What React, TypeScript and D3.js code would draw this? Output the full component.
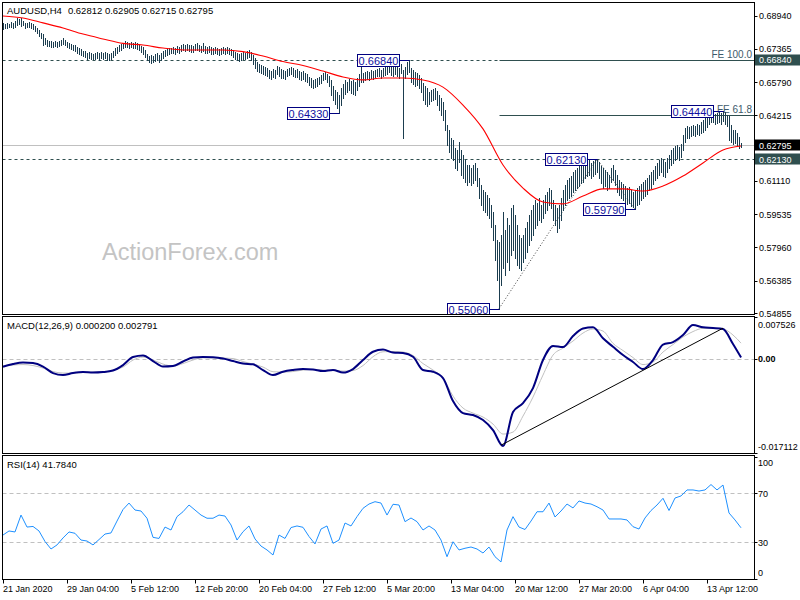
import React from "react";
import * as d3 from "d3";

// ---------- DATA ----------
const barHigh = [
  0.6859, 0.6854, 0.6859, 0.6854, 0.6863, 0.6859, 0.6868, 0.6882, 0.6877, 0.6882,
  0.6868, 0.6859, 0.6859, 0.6863, 0.6859, 0.6854, 0.6844, 0.6835, 0.6825, 0.6811,
  0.6806, 0.6787, 0.6778, 0.6773, 0.6773, 0.6769, 0.6773, 0.6769, 0.6773, 0.6778,
  0.6787, 0.6778, 0.6769, 0.6764, 0.6759, 0.6754, 0.6754, 0.6745, 0.6740, 0.6735,
  0.6726, 0.6726, 0.6716, 0.6721, 0.6716, 0.6712, 0.6716, 0.6721, 0.6716, 0.6721,
  0.6716, 0.6721, 0.6716, 0.6712, 0.6716, 0.6726, 0.6740, 0.6745, 0.6754, 0.6759,
  0.6764, 0.6773, 0.6769, 0.6764, 0.6769, 0.6764, 0.6769, 0.6764, 0.6759, 0.6750,
  0.6745, 0.6731, 0.6712, 0.6702, 0.6707, 0.6702, 0.6712, 0.6716, 0.6707, 0.6716,
  0.6726, 0.6731, 0.6735, 0.6740, 0.6740, 0.6745, 0.6740, 0.6750, 0.6745, 0.6754,
  0.6759, 0.6754, 0.6759, 0.6754, 0.6754, 0.6750, 0.6759, 0.6764, 0.6754, 0.6750,
  0.6764, 0.6750, 0.6745, 0.6750, 0.6745, 0.6740, 0.6745, 0.6740, 0.6735, 0.6740,
  0.6745, 0.6740, 0.6745, 0.6740, 0.6735, 0.6731, 0.6721, 0.6716, 0.6712, 0.6716,
  0.6721, 0.6716, 0.6726, 0.6731, 0.6721, 0.6707, 0.6693, 0.6674, 0.6664, 0.6660,
  0.6655, 0.6650, 0.6645, 0.6636, 0.6631, 0.6641, 0.6636, 0.6655, 0.6650, 0.6641,
  0.6636, 0.6631, 0.6641, 0.6645, 0.6650, 0.6645, 0.6636, 0.6641, 0.6631, 0.6627,
  0.6631, 0.6622, 0.6617, 0.6603, 0.6598, 0.6589, 0.6593, 0.6598, 0.6603, 0.6612,
  0.6622, 0.6627, 0.6617, 0.6608, 0.6589, 0.6560, 0.6541, 0.6532, 0.6518, 0.6551,
  0.6570, 0.6589, 0.6579, 0.6593, 0.6584, 0.6589, 0.6579, 0.6598, 0.6617, 0.6650,
  0.6622, 0.6627, 0.6631, 0.6627, 0.6636, 0.6631, 0.6636, 0.6641, 0.6645, 0.6636,
  0.6645, 0.6650, 0.6655, 0.6664, 0.6655, 0.6650, 0.6660, 0.6655, 0.6645, 0.6664,
  0.6636, 0.6650, 0.6674, 0.6684, 0.6645, 0.6636, 0.6627, 0.6622, 0.6612, 0.6598,
  0.6574, 0.6560, 0.6551, 0.6532, 0.6541, 0.6546, 0.6551, 0.6537, 0.6518, 0.6503,
  0.6484, 0.6447, 0.6376, 0.6352, 0.6314, 0.6305, 0.6267, 0.6257, 0.6295, 0.6257,
  0.6234, 0.6210, 0.6186, 0.6186, 0.6172, 0.6186, 0.6196, 0.6172, 0.6125, 0.6091,
  0.6068, 0.6058, 0.6044, 0.6030, 0.5997, 0.5964, 0.5902, 0.5831, 0.5822, 0.5855,
  0.5964, 0.5878, 0.5935, 0.5902, 0.5983, 0.5997, 0.5949, 0.5902, 0.5855, 0.5841,
  0.5855, 0.5888, 0.5916, 0.5949, 0.5973, 0.5997, 0.6020, 0.6006, 0.6030, 0.5997,
  0.6020, 0.6044, 0.6058, 0.6077, 0.6068, 0.6020, 0.5997, 0.5983, 0.5997, 0.6030,
  0.6068, 0.6091, 0.6115, 0.6125, 0.6134, 0.6153, 0.6163, 0.6172, 0.6181, 0.6186,
  0.6196, 0.6200, 0.6186, 0.6210, 0.6196, 0.6205, 0.6210, 0.6213, 0.6200, 0.6181,
  0.6172, 0.6163, 0.6153, 0.6139, 0.6172, 0.6186, 0.6163, 0.6139, 0.6115, 0.6106,
  0.6096, 0.6087, 0.6077, 0.6082, 0.6068, 0.6058, 0.6068, 0.6077, 0.6087, 0.6096,
  0.6106, 0.6115, 0.6125, 0.6139, 0.6153, 0.6163, 0.6181, 0.6196, 0.6210, 0.6219,
  0.6210, 0.6200, 0.6219, 0.6234, 0.6257, 0.6267, 0.6276, 0.6281, 0.6271, 0.6286,
  0.6328, 0.6361, 0.6371, 0.6366, 0.6371, 0.6376, 0.6371, 0.6380, 0.6376, 0.6390,
  0.6399, 0.6409, 0.6418, 0.6428, 0.6432, 0.6437, 0.6428, 0.6432, 0.6442, 0.6432,
  0.6444, 0.6437, 0.6423, 0.6418, 0.6376, 0.6352, 0.6352, 0.6338, 0.6319, 0.62905,
];

const barLow = [
  0.6830, 0.6835, 0.6835, 0.6840, 0.6840, 0.6835, 0.6840, 0.6849, 0.6854, 0.6844,
  0.6849, 0.6835, 0.6840, 0.6840, 0.6835, 0.6830, 0.6821, 0.6811, 0.6797, 0.6787,
  0.6754, 0.6759, 0.6750, 0.6750, 0.6745, 0.6745, 0.6750, 0.6745, 0.6750, 0.6754,
  0.6759, 0.6754, 0.6745, 0.6740, 0.6735, 0.6731, 0.6726, 0.6716, 0.6712, 0.6707,
  0.6702, 0.6698, 0.6688, 0.6693, 0.6688, 0.6688, 0.6688, 0.6693, 0.6683, 0.6693,
  0.6688, 0.6693, 0.6683, 0.6683, 0.6688, 0.6698, 0.6707, 0.6716, 0.6726, 0.6731,
  0.6740, 0.6745, 0.6745, 0.6740, 0.6745, 0.6740, 0.6740, 0.6735, 0.6731, 0.6721,
  0.6712, 0.6698, 0.6683, 0.6674, 0.6669, 0.6674, 0.6679, 0.6683, 0.6674, 0.6683,
  0.6693, 0.6702, 0.6707, 0.6712, 0.6716, 0.6716, 0.6712, 0.6721, 0.6716, 0.6726,
  0.6731, 0.6726, 0.6731, 0.6726, 0.6721, 0.6721, 0.6731, 0.6731, 0.6726, 0.6721,
  0.6726, 0.6716, 0.6716, 0.6721, 0.6712, 0.6712, 0.6716, 0.6712, 0.6707, 0.6712,
  0.6716, 0.6712, 0.6716, 0.6712, 0.6707, 0.6698, 0.6688, 0.6683, 0.6679, 0.6683,
  0.6688, 0.6688, 0.6693, 0.6698, 0.6683, 0.6664, 0.6645, 0.6631, 0.6627, 0.6622,
  0.6617, 0.6612, 0.6608, 0.6598, 0.6593, 0.6603, 0.6598, 0.6617, 0.6608, 0.6598,
  0.6598, 0.6593, 0.6608, 0.6612, 0.6617, 0.6608, 0.6603, 0.6603, 0.6593, 0.6589,
  0.6593, 0.6584, 0.6579, 0.6565, 0.6555, 0.6551, 0.6555, 0.6560, 0.6570, 0.6574,
  0.6589, 0.6593, 0.6579, 0.6560, 0.6518, 0.6494, 0.6475, 0.6456, 0.6433, 0.6470,
  0.6503, 0.6522, 0.6532, 0.6541, 0.6527, 0.6522, 0.6518, 0.6541, 0.6560, 0.6579,
  0.6579, 0.6589, 0.6593, 0.6589, 0.6598, 0.6593, 0.6603, 0.6608, 0.6608, 0.6598,
  0.6608, 0.6612, 0.6617, 0.6627, 0.6612, 0.6608, 0.6617, 0.6608, 0.6598, 0.6622,
  0.6314, 0.6598, 0.6617, 0.6627, 0.6579, 0.6570, 0.6560, 0.6565, 0.6551, 0.6532,
  0.6494, 0.6475, 0.6466, 0.6475, 0.6489, 0.6494, 0.6499, 0.6470, 0.6447, 0.6423,
  0.6399, 0.6352, 0.6281, 0.6248, 0.6219, 0.6210, 0.6172, 0.6163, 0.6200, 0.6139,
  0.6125, 0.6106, 0.6091, 0.6106, 0.6091, 0.6101, 0.6115, 0.6087, 0.6030, 0.5997,
  0.5973, 0.5964, 0.5949, 0.5935, 0.5893, 0.5831, 0.5736, 0.5642, 0.5506, 0.5618,
  0.5698, 0.5665, 0.5727, 0.5689, 0.5760, 0.5784, 0.5746, 0.5713, 0.5698, 0.5689,
  0.5727, 0.5746, 0.5774, 0.5807, 0.5831, 0.5855, 0.5888, 0.5902, 0.5926, 0.5916,
  0.5935, 0.5959, 0.5973, 0.5997, 0.5983, 0.5926, 0.5902, 0.5869, 0.5888, 0.5926,
  0.5973, 0.5997, 0.6020, 0.6030, 0.6039, 0.6058, 0.6068, 0.6077, 0.6087, 0.6101,
  0.6106, 0.6125, 0.6134, 0.6139, 0.6125, 0.6134, 0.6144, 0.6153, 0.6125, 0.6101,
  0.6077, 0.6087, 0.6068, 0.6077, 0.6106, 0.6115, 0.6091, 0.6058, 0.6044, 0.6030,
  0.6020, 0.6011, 0.6002, 0.6006, 0.5992, 0.5987, 0.5979, 0.5997, 0.6002, 0.6020,
  0.6030, 0.6039, 0.6049, 0.6068, 0.6077, 0.6096, 0.6115, 0.6125, 0.6139, 0.6153,
  0.6134, 0.6129, 0.6153, 0.6172, 0.6186, 0.6196, 0.6210, 0.6219, 0.6210, 0.6224,
  0.6257, 0.6295, 0.6314, 0.6314, 0.6323, 0.6328, 0.6323, 0.6333, 0.6328, 0.6338,
  0.6342, 0.6352, 0.6366, 0.6380, 0.6390, 0.6390, 0.6380, 0.6385, 0.6390, 0.6380,
  0.6395, 0.6380, 0.6371, 0.6305, 0.6295, 0.6286, 0.6290, 0.6276, 0.6267, 0.62715,
];

const lastOpen = 0.62812;
const lastHigh = 0.62905;
const lastLow = 0.62715;
const lastClose = 0.62795;

// moving average (red), sampled every 10 bars + last bar
const maIndex = [...d3.range(0, 361, 10), 369];
const maValues = [
  0.6892, 0.6882, 0.6859, 0.6835, 0.6806, 0.6783, 0.6762, 0.6754, 0.6740, 0.6731,
  0.6731, 0.6731, 0.6723, 0.6702, 0.6676, 0.6657, 0.6631, 0.6603, 0.6589, 0.6598,
  0.6598, 0.6589, 0.6555, 0.6470, 0.6357, 0.6186, 0.6077, 0.6011, 0.6002, 0.6039,
  0.6073, 0.6073, 0.6063, 0.6087, 0.6134, 0.6196, 0.6257, 0.6276,
];

// MACD(12,26,9), sampled every 5 bars + last bar
const macdIndex = [...d3.range(0, 366, 5), 369];
const macdMain = [
  -0.00149, -0.00100, -0.00072, -0.00082, -0.00145, -0.00263, -0.00299, -0.00263, -0.00245, -0.00254,
  -0.00245, -0.00217, -0.00118, 0.00027, 0.00054, -0.00045, -0.00145, -0.00136, -0.00054, 0.00018,
  0.00027, 0.00022, 0.00000, -0.00045, -0.00091, -0.00105, -0.00208, -0.00299, -0.00239, -0.00208,
  -0.00190, -0.00199, -0.00227, -0.00208, -0.00254, -0.00190, -0.00027, 0.00123, 0.00163, 0.00109,
  0.00100, 0.00033, -0.00208, -0.00239, -0.00353, -0.00770, -0.00988, -0.01024, -0.01114, -0.01296,
  -0.01586, -0.00969, -0.00806, -0.00535, -0.00027, 0.00227, 0.00208, 0.00408, 0.00544, 0.00565,
  0.00366, 0.00214, 0.00063, -0.00063, -0.00190, -0.00027, 0.00254, 0.00299, 0.00426, 0.00607,
  0.00565, 0.00553, 0.00535, 0.00263, 0.00020,
];
const macdSignal = [
  -0.00136, -0.00118, -0.00109, -0.00127, -0.00172, -0.00236, -0.00263, -0.00263, -0.00254, -0.00245,
  -0.00245, -0.00208, -0.00154, -0.00027, 0.00027, -0.00027, -0.00100, -0.00136, -0.00091, -0.00027,
  0.00014, 0.00014, 0.00009, 0.00000, -0.00054, -0.00100, -0.00154, -0.00239, -0.00245, -0.00236,
  -0.00208, -0.00199, -0.00208, -0.00208, -0.00227, -0.00217, -0.00127, 0.00033, 0.00123, 0.00127,
  0.00118, 0.00054, -0.00091, -0.00208, -0.00353, -0.00680, -0.00897, -0.00988, -0.01060, -0.01187,
  -0.01368, -0.01332, -0.01042, -0.00698, -0.00299, 0.00063, 0.00190, 0.00317, 0.00462, 0.00535,
  0.00498, 0.00275, 0.00145, 0.00018, -0.00109, -0.00063, 0.00118, 0.00254, 0.00390, 0.00489,
  0.00547, 0.00547, 0.00535, 0.00426, 0.00279,
];
const macdLabelMain = "0.000200";
const macdLabelSignal = "0.002791";

// RSI(14), sampled every 3 bars
const rsiIndex = d3.range(0, 370, 3);
const rsiValues = [
  35.9, 39.2, 38.4, 52.2, 42.4, 42.9, 39.2, 30.6, 24.5, 27.8,
  33.5, 38.4, 37.3, 31.8, 31.0, 27.8, 32.2, 36.7, 37.6, 47.3,
  56.7, 62.0, 56.3, 55.5, 49.6, 34.0, 33.1, 42.4, 40.0, 50.9,
  54.9, 60.4, 56.3, 52.2, 49.6, 49.6, 52.2, 51.4, 44.1, 31.8,
  38.6, 43.3, 32.7, 26.9, 23.7, 19.6, 35.9, 33.1, 42.0, 43.3,
  42.2, 34.7, 28.6, 40.8, 43.3, 29.1, 31.8, 45.7, 43.3, 50.9,
  57.7, 61.2, 63.1, 62.0, 52.2, 61.0, 60.4, 46.8, 49.8, 46.8,
  40.0, 43.3, 40.0, 31.8, 18.2, 30.4, 23.7, 25.1, 26.1, 24.5,
  21.2, 26.1, 18.2, 13.9, 40.0, 50.9, 42.4, 40.4, 47.3, 54.9,
  54.9, 62.0, 50.6, 55.5, 61.2, 58.0, 63.7, 62.0, 61.2, 59.0,
  56.3, 49.0, 49.0, 49.0, 48.2, 42.7, 40.8, 49.8, 55.9, 60.4,
  65.9, 55.9, 66.1, 67.8, 72.7, 72.7, 71.8, 72.7, 77.1, 72.7,
  76.7, 53.9, 48.2, 41.8,
];
const rsiLabel = "41.7840";

const priceTicks = [0.6894, 0.67365, 0.6579, 0.64215, 0.6111, 0.59535, 0.5796, 0.56385, 0.54855];
const dateLabels = [
  "21 Jan 2020", "29 Jan 04:00", "5 Feb 12:00", "12 Feb 20:00", "20 Feb 04:00", "27 Feb 12:00",
  "5 Mar 20:00", "13 Mar 04:00", "20 Mar 12:00", "27 Mar 20:00", "6 Apr 04:00", "13 Apr 12:00",
];
const dateIndex = [0, 32, 64, 96, 128, 160, 192, 224, 256, 288, 320, 352];

const dashedLevels = [0.6684, 0.6213];
const feLabels = ["FE 100.0", "FE 61.8"];
const feValues = [0.6684, 0.6421];
const feStartIndex = 248;

const pivotTexts = ["0.66840", "0.64330", "0.55060", "0.62130", "0.59790", "0.64440"];
const pivotIndex = [203, 168, 248, 297, 316, 360];
const pivotValues = [0.6684, 0.6433, 0.5506, 0.6213, 0.5979, 0.6444];

const swingIndex = [248, 297, 316];
const swingValues = [0.5506, 0.6213, 0.5979];

const macdTrendIndex = [249, 360];
const macdTrendValues = [-0.0157, 0.0055];

const macdAxis = [0.007526, 0, -0.017112];
const rsiAxis = [100, 70, 30, 0];

// ---------- LAYOUT ----------
const W = 800;
const H = 600;
const L = 2.5;
const R = 754.5;
const mainTop = 2.5, mainBottom = 314.5;
const macdTop = 316.5, macdBottom = 453.5;
const rsiTop = 455.5, rsiBottom = 579.5;
const FONT = "'Liberation Sans', Arial, sans-serif";
const BAR = "#1b3d4f";
const SLATE = "#2f4f4f";
const NAVY = "#000080";

export default function App() {
  const x = d3.scaleLinear().domain([0, 369]).range([3, 741]);
  const yP = d3.scaleLinear().domain([0.54855, 0.6894]).range([313, 15.5]);
  const yM = d3.scaleLinear().domain([-0.017112, 0.007526]).range([453, 317]);
  const yR = d3.scaleLinear().domain([0, 100]).range([579, 456.5]);

  const px = (i: number) => Math.round(x(i)) + 0.5;

  const barsPath = barHigh
    .map((h, i) => {
      const xx = px(i);
      const top = Math.round(yP(h));
      const bot = Math.max(Math.round(yP(barLow[i])) + 1, top + 2);
      return `M${xx},${top}V${bot}`;
    })
    .join("");

  const maLine = d3
    .line<number>()
    .x((_, k) => x(maIndex[k]))
    .y((d) => yP(d))
    .curve(d3.curveMonotoneX)(maValues) as string;

  const macdLine = (vals: number[]) =>
    d3
      .line<number>()
      .x((_, k) => x(macdIndex[k]))
      .y((d) => yM(d))
      .curve(d3.curveMonotoneX)(vals) as string;

  const rsiLine = d3
    .line<number>()
    .x((_, k) => x(rsiIndex[k]))
    .y((d) => yR(d))(rsiValues) as string;

  const swingLine = d3
    .line<number>()
    .x((_, k) => x(swingIndex[k]))
    .y((d) => yP(d))(swingValues) as string;

  const macdTrend = d3
    .line<number>()
    .x((_, k) => x(macdTrendIndex[k]))
    .y((d) => yM(d))(macdTrendValues) as string;

  const fmt5 = (v: number) => v.toFixed(5);
  const hy = (v: number) => Math.round(v) + 0.5;

  return (
    <svg
      width={W}
      height={H}
      style={{ position: "absolute", left: 0, top: 0, background: "#fff" }}
      fontFamily={FONT}
    >
      <defs>
        <clipPath id="clipMain">
          <rect x={L} y={mainTop} width={R - L} height={mainBottom - mainTop} />
        </clipPath>
        <clipPath id="clipMacd">
          <rect x={L} y={macdTop} width={R - L} height={macdBottom - macdTop} />
        </clipPath>
        <clipPath id="clipRsi">
          <rect x={L} y={rsiTop} width={R - L} height={rsiBottom - rsiTop} />
        </clipPath>
      </defs>
      <rect x={0} y={0} width={W} height={H} fill="#fff" />

      {/* ---------- MAIN PANEL ---------- */}
      <g clipPath="url(#clipMain)">
        <text x={102} y={260} fontSize={23.5} fill="#c4c4c4" fontFamily={FONT}>
          ActionForex.com
        </text>
        <line x1={L} x2={R} y1={hy(yP(lastClose))} y2={hy(yP(lastClose))} stroke="#c0c0c0" />
        {dashedLevels.map((v, k) => (
          <line key={k} x1={L} x2={R} y1={hy(yP(v))} y2={hy(yP(v))} stroke={SLATE} strokeDasharray="3,3" />
        ))}
        {feValues.map((v, k) => (
          <g key={k}>
            <line x1={px(feStartIndex)} x2={R} y1={hy(yP(v))} y2={hy(yP(v))} stroke={SLATE} />
            <text x={752} y={hy(yP(v)) - 3} fontSize={10} fill="#3d5a6a" textAnchor="end">
              {feLabels[k]}
            </text>
          </g>
        ))}
        <path d={swingLine} fill="none" stroke="#404040" strokeDasharray="1,2" />
        <path d={barsPath} stroke={BAR} strokeWidth={1} fill="none" shapeRendering="crispEdges" />
        <path d={maLine} fill="none" stroke="#ff0000" strokeWidth={1.1} />
        {pivotTexts.map((t, k) => {
          const bx = px(pivotIndex[k]);
          const vy = hy(yP(pivotValues[k]));
          const w = 42;
          const right = bx - 10;
          return (
            <g key={k}>
              <line x1={right} x2={bx} y1={vy} y2={vy} stroke={NAVY} />
              <rect x={right - w} y={vy - 6} width={w} height={12} fill="#fff" stroke={NAVY} />
              <text x={right - w / 2} y={vy + 4} fontSize={11} fill="#1010a0" textAnchor="middle">
                {t}
              </text>
            </g>
          );
        })}
      </g>
      <text x={7} y={14} fontSize={9.5} fill="#000">
        AUDUSD,H4
        <tspan dx={6}>{`${fmt5(lastOpen)} ${fmt5(lastHigh)} ${fmt5(lastLow)} ${fmt5(lastClose)}`}</tspan>
      </text>
      <rect x={L} y={mainTop} width={R - L} height={mainBottom - mainTop} fill="none" stroke="#000" />

      {priceTicks.map((v, k) => (
        <g key={k}>
          <line x1={R} x2={R + 3} y1={hy(yP(v))} y2={hy(yP(v))} stroke="#000" />
          <text x={759} y={yP(v) + 3.5} fontSize={9} fill="#000">
            {v.toFixed(5)}
          </text>
        </g>
      ))}
      {[
        { v: 0.6684, fill: SLATE },
        { v: lastClose, fill: "#000" },
        { v: 0.6213, fill: SLATE },
      ].map((b, k) => (
        <g key={k}>
          <rect x={755} y={Math.round(yP(b.v)) - 5.5} width={45} height={11} fill={b.fill} />
          <text x={759} y={yP(b.v) + 3.5} fontSize={9} fill="#fff">
            {b.v.toFixed(5)}
          </text>
        </g>
      ))}

      {/* ---------- MACD PANEL ---------- */}
      <g clipPath="url(#clipMacd)">
        <line x1={L} x2={R} y1={hy(yM(0))} y2={hy(yM(0))} stroke="#c0c0c0" strokeDasharray="4,3" />
        <path d={macdLine(macdSignal)} fill="none" stroke="#c0c0c0" strokeWidth={1} />
        <path d={macdLine(macdMain)} fill="none" stroke={NAVY} strokeWidth={2} />
        <path d={macdTrend} fill="none" stroke="#000" strokeWidth={1} />
      </g>
      <text x={7} y={329} fontSize={9.5} fill="#000">
        {`MACD(12,26,9) ${macdLabelMain} ${macdLabelSignal}`}
      </text>
      <rect x={L} y={macdTop} width={R - L} height={macdBottom - macdTop} fill="none" stroke="#000" />
      {macdAxis.map((v, k) => {
        const ty = k === 0 ? macdTop + 11.5 : k === 2 ? macdBottom - 3.5 : yM(v) + 3.5;
        return (
          <g key={k}>
            <line x1={R} x2={R + 3} y1={hy(yM(v))} y2={hy(yM(v))} stroke="#000" />
            <text x={758} y={ty} fontSize={9} fill="#000" fontWeight={v === 0 ? 700 : 400}>
              {v === 0 ? "0.00" : v.toFixed(6)}
            </text>
          </g>
        );
      })}

      {/* ---------- RSI PANEL ---------- */}
      <g clipPath="url(#clipRsi)">
        {[70, 30].map((v) => (
          <line key={v} x1={L} x2={R} y1={hy(yR(v))} y2={hy(yR(v))} stroke="#c0c0c0" strokeDasharray="4,3" />
        ))}
        <path d={rsiLine} fill="none" stroke="#1e90ff" strokeWidth={1} />
      </g>
      <text x={7} y={468} fontSize={9.5} fill="#000">
        {`RSI(14) ${rsiLabel}`}
      </text>
      <rect x={L} y={rsiTop} width={R - L} height={rsiBottom - rsiTop} fill="none" stroke="#000" />
      {rsiAxis.map((v, k) => {
        const ty = v === 100 ? rsiTop + 10.5 : v === 0 ? rsiBottom - 3.5 : yR(v) + 3.5;
        return (
          <g key={k}>
            <line x1={R} x2={R + 3} y1={hy(yR(v))} y2={hy(yR(v))} stroke="#000" />
            <text x={758} y={ty} fontSize={9} fill="#000">
              {v}
            </text>
          </g>
        );
      })}

      {/* ---------- DATE AXIS ---------- */}
      {dateIndex.map((i, k) => (
        <g key={k}>
          <line x1={px(i)} x2={px(i)} y1={rsiBottom} y2={rsiBottom + 4} stroke="#000" />
          <text x={x(i)} y={592} fontSize={9} fill="#000">
            {dateLabels[k]}
          </text>
        </g>
      ))}
    </svg>
  );
}
